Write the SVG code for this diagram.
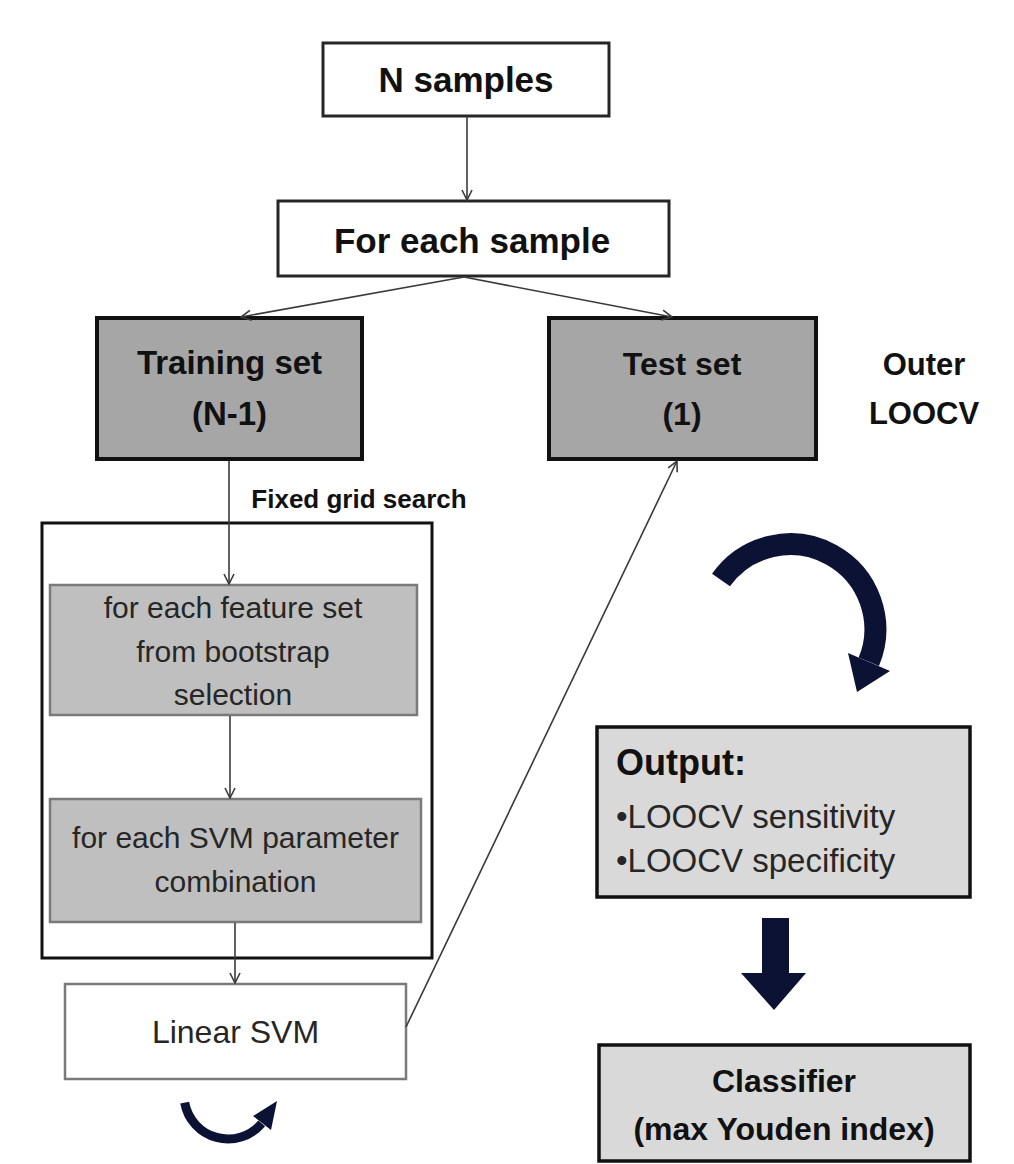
<svg xmlns="http://www.w3.org/2000/svg" width="1014" height="1164" viewBox="0 0 1014 1164">
<defs>
<style>
.b{font-family:"Liberation Sans",Arial,sans-serif;font-weight:bold;fill:#111;text-anchor:middle}
.r{font-family:"Liberation Sans",Arial,sans-serif;fill:#262626;text-anchor:middle}
.s{text-anchor:start}
.conn{stroke:#3a3a3a;stroke-width:1.6;fill:none;marker-end:url(#ah)}
.white{fill:#fff;stroke:#262626;stroke-width:3}
.dark{fill:#a6a6a6;stroke:#111;stroke-width:4}
.mid{fill:#bfbfbf;stroke:#7a7a7a;stroke-width:2.5}
.light{fill:#d9d9d9;stroke:#111;stroke-width:3.5}
.navy{fill:#0b1233}
</style>
<marker id="ah" viewBox="0 0 12 12" refX="11" refY="6" markerWidth="12" markerHeight="12" markerUnits="userSpaceOnUse" orient="auto">
<path d="M1,1 L11,6 L1,11" fill="none" stroke="#3a3a3a" stroke-width="1.6"/>
</marker>
</defs>
<rect width="1014" height="1164" fill="#fff"/>

<g id="grid-frame">
<rect x="42" y="523" width="390" height="435" fill="none" stroke="#111" stroke-width="3"/>
<text class="b" x="359" y="508" font-size="26">Fixed grid search</text>
</g>

<g id="n-samples">
<rect class="white" x="323" y="43" width="286" height="73"/>
<text class="b" x="466" y="92" font-size="35">N samples</text>
</g>

<g id="for-each-sample">
<rect class="white" x="278" y="201" width="391" height="75"/>
<text class="b" x="472" y="253" font-size="35">For each sample</text>
</g>

<g id="training-set">
<rect class="dark" x="97" y="318" width="265" height="141"/>
<text class="b" x="229.5" y="374" font-size="33">Training set</text>
<text class="b" x="229.5" y="425" font-size="33">(N-1)</text>
</g>

<g id="test-set">
<rect class="dark" x="549" y="318" width="267" height="141"/>
<text class="b" x="682" y="375" font-size="32">Test set</text>
<text class="b" x="682" y="425" font-size="32">(1)</text>
</g>

<g id="outer-loocv">
<text class="b" x="924" y="375" font-size="31">Outer</text>
<text class="b" x="924" y="424" font-size="31">LOOCV</text>
</g>

<g id="feature-set">
<rect class="mid" x="50" y="585" width="367" height="130"/>
<text class="r" x="233" y="618" font-size="30">for each feature set</text>
<text class="r" x="233" y="662" font-size="30">from bootstrap</text>
<text class="r" x="233" y="705" font-size="30">selection</text>
</g>

<g id="svm-params">
<rect class="mid" x="50" y="799" width="371" height="123"/>
<text class="r" x="235.5" y="848" font-size="30">for each SVM parameter</text>
<text class="r" x="235.5" y="892" font-size="30">combination</text>
</g>

<g id="linear-svm">
<rect x="65" y="984" width="341" height="95" fill="#fff" stroke="#7a7a7a" stroke-width="2.5"/>
<text class="r" x="235.5" y="1043" font-size="32">Linear SVM</text>
</g>

<g id="inner-loop-arrow">
<path d="M184.7,1102.6 A44,44 0 0 0 261.7,1123.3" fill="none" stroke="#0b1233" stroke-width="9"/>
<polygon class="navy" points="253,1116 271,1130 277,1101"/>
</g>

<g id="outer-loop-arrow">
<path d="M721,580 A85,85 0 0 1 868.8,661.8" fill="none" stroke="#0b1233" stroke-width="22"/>
<polygon class="navy" points="848,653 890,671 857,692"/>
</g>

<g id="output">
<rect class="light" x="597" y="727" width="373" height="170"/>
<text class="b s" x="616" y="775" font-size="36">Output:</text>
<text class="r s" x="616" y="828" font-size="33">•LOOCV sensitivity</text>
<text class="r s" x="616" y="872" font-size="33">•LOOCV specificity</text>
</g>

<g id="block-arrow">
<polygon class="navy" points="762,918 789,918 789,973 806,973 774,1010 741,973 762,973"/>
</g>

<g id="classifier">
<rect class="light" x="599" y="1045" width="371" height="116"/>
<text class="b" x="784" y="1092" font-size="32">Classifier</text>
<text class="b" x="784" y="1140" font-size="32">(max Youden index)</text>
</g>

<g id="connectors">
<line class="conn" x1="467" y1="116" x2="467" y2="200"/>
<line class="conn" x1="464" y1="277" x2="241" y2="317"/>
<line class="conn" x1="464" y1="277" x2="672" y2="317"/>
<line class="conn" x1="229" y1="461" x2="229" y2="584"/>
<line class="conn" x1="230" y1="716" x2="230" y2="798"/>
<line class="conn" x1="235" y1="923" x2="235" y2="983"/>
<line class="conn" x1="406" y1="1027" x2="677" y2="461"/>
</g>
</svg>
